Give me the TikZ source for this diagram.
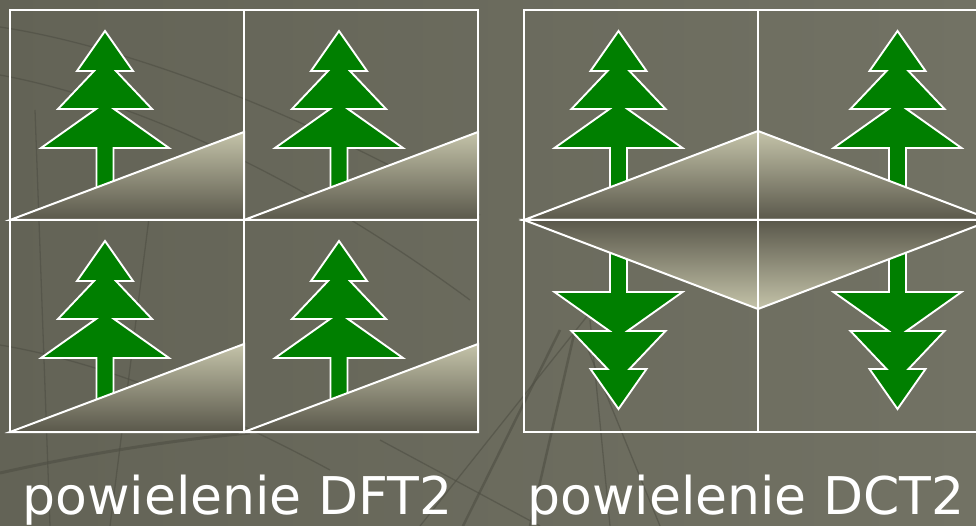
\documentclass[tikz,border=0pt]{standalone}
\usepackage{fontspec}
\setmainfont{DejaVu Sans}

\definecolor{bgleft}{HTML}{636356}
\definecolor{bgright}{HTML}{727264}
\definecolor{bgline}{HTML}{4E4E43}
\definecolor{firgreen}{HTML}{007F00}
\definecolor{slopelight}{HTML}{C4C3A9}
\definecolor{slopemid}{HTML}{A19E88}
\definecolor{slopedark}{HTML}{5A584B}

\tikzset{
  gridline/.style={draw=white, line width=2.2pt},
  firtree/.style={draw=white, line width=1.9pt, fill=firgreen, line join=miter},
  slope/.style={draw=white, line width=2pt, top color=slopelight,
    middle color=slopemid, bottom color=slopedark},
  slopeup/.style={draw=white, line width=2pt, top color=slopedark,
    middle color=slopemid, bottom color=slopelight},
  texture/.style={draw=bgline, line width=1.3pt, opacity=0.6},
  caption/.style={anchor=base west, inner sep=0pt, text=white,
    font=\fontsize{52}{60}\selectfont},
  pics/fir/.style={code={
    \draw[firtree] (0,0) -- (-28,40) -- (-11,40) -- (-47,78) -- (-9,78)
      -- (-64,117) -- (-8.5,117) -- (-8.5,165) -- (8.5,165) -- (8.5,117)
      -- (64,117) -- (9,78) -- (47,78) -- (11,40) -- (28,40) -- cycle;
  }}
}

\begin{document}
\begin{tikzpicture}[x=1pt, y=-1pt]
  \useasboundingbox (0,0) rectangle (976,526);
  \clip (0,0) rectangle (976,526);
  \fill[left color=bgleft, right color=bgright] (0,0) rectangle (976,526);

  % faint wire pattern behind everything
  \begin{scope}
    \draw[texture] (0,27) .. controls (120,45) and (300,110) .. (480,215);
    \draw[texture] (0,75) .. controls (110,95) and (280,160) .. (470,300);
    \draw[texture] (0,345) .. controls (90,360) and (200,400) .. (330,470);
    \draw[texture, line width=3pt] (0,473) .. controls (80,455) and (170,440) .. (250,433);
    \draw[texture, line width=2.5pt] (463,526) -- (560,330);
    \draw[texture, line width=2.5pt] (530,526) -- (575,330);
    \draw[texture] (420,526) -- (600,300);
    \draw[texture] (610,526) -- (590,320);
    \draw[texture] (660,526) -- (580,330);
    \draw[texture] (380,440) -- (540,526);
    \draw[texture] (35,110) -- (50,526);
    \draw[texture] (150,210) -- (110,526);
  \end{scope}

  % left half: plain tiling
  \foreach \cx/\cy/\cb in {10/10/220, 244/10/220, 10/220/432, 244/220/432} {
    \pic at ({\cx+95},{\cy+21}) {fir};
    \path[slope] (\cx,\cb) -- ({\cx+234},\cb) -- ({\cx+234},{\cb-88}) -- cycle;
  }
  \draw[gridline] (10,10) rectangle (478,432);
  \draw[gridline] (244,10) -- (244,432);
  \draw[gridline] (10,220) -- (478,220);

  % right half: mirrored tiling
  \pic at (618.5,31) {fir};
  \pic[xscale=-1] at (897.5,31) {fir};
  \pic[yscale=-1] at (618.5,409) {fir};
  \pic[scale=-1] at (897.5,409) {fir};
  \path[slope] (524,220) -- (758,131) -- (992,220) -- cycle;
  \path[slopeup] (524,220) -- (758,309) -- (992,220) -- cycle;
  \draw[gridline] (524,10) rectangle (992,432);
  \draw[gridline] (758,10) -- (758,432);
  \draw[gridline] (524,220) -- (992,220);

  \node[caption] (dft) at (22,514) {powielenie DFT2};
  \node[caption] (dct) at (527,514) {powielenie DCT2};
\end{tikzpicture}
\end{document}
